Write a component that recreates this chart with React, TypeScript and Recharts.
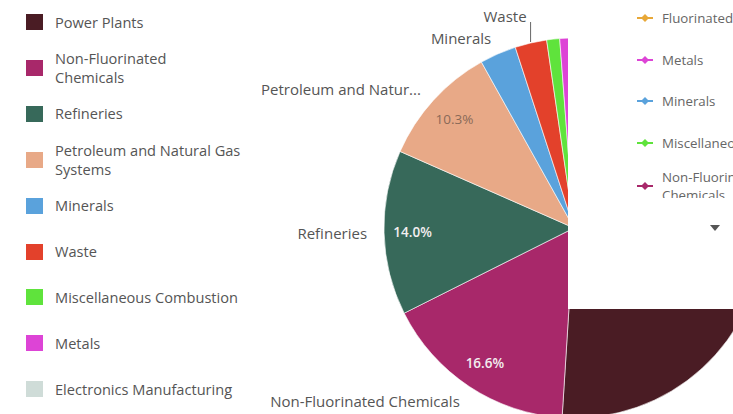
import React from "react";
import { PieChart, Pie, Cell } from "recharts";

const CATEGORIES = [
  "Power Plants",
  "Non-Fluorinated Chemicals",
  "Refineries",
  "Petroleum and Natural Gas Systems",
  "Minerals",
  "Waste",
  "Miscellaneous Combustion",
  "Metals",
  "Electronics Manufacturing",
];

// share of emissions, percent
const VALUES = [51.0, 16.6, 14.0, 10.3, 3.1, 2.7, 1.1, 0.9, 0.3];

const COLORS = [
  "#4a1c24",
  "#a8286a",
  "#37695a",
  "#e8a987",
  "#5aa2dc",
  "#e3412b",
  "#5fe33c",
  "#dd44d6",
  "#cfdcd8",
];

const LEGEND_LABELS = [
  "Power Plants",
  "Non-Fluorinated\nChemicals",
  "Refineries",
  "Petroleum and Natural Gas\nSystems",
  "Minerals",
  "Waste",
  "Miscellaneous Combustion",
  "Metals",
  "Electronics Manufacturing",
];

// which slices get a name outside / a percent inside
const NAME_LABELS = [1, 2, 3, 4, 5];
const PCT_LABELS = [1, 2, 3];

// legend of the panel lying over the pie
const SIDE_LABELS = [
  "Fluorinated GHG Production",
  "Metals",
  "Minerals",
  "Miscellaneous Combustion",
  "Non-Fluorinated\nChemicals",
];
const SIDE_COLORS = ["#e8a838", "#dd44d6", "#5aa2dc", "#5fe33c", "#a8286a"];

const FONT = "'Open Sans', 'Noto Sans', sans-serif";
const RAD = Math.PI / 180;

const data = CATEGORIES.map((name, i) => ({ name, value: VALUES[i] }));

function shortName(name: string) {
  return name.length > 25 ? name.slice(0, 19) + "..." : name;
}

function renderLabel(props: any) {
  const { cx, cy, midAngle, outerRadius, index, percent } = props;
  const cos = Math.cos(-midAngle * RAD);
  const sin = Math.sin(-midAngle * RAD);
  const out: React.ReactNode[] = [];

  if (PCT_LABELS.includes(index)) {
    const r = outerRadius * 0.85;
    const light = index !== 3;
    out.push(
      <text
        key="p"
        x={cx + r * cos}
        y={cy + r * sin}
        textAnchor="middle"
        dominantBaseline="central"
        fontSize={13.5}
        fontWeight={light ? 600 : 400}
        fill={light ? "#f3eef0" : "#8a6a58"}
        fontFamily={FONT}
      >
        {(percent * 100).toFixed(1)}%
      </text>
    );
  }

  if (NAME_LABELS.includes(index)) {
    const r = outerRadius + 17;
    let x = cx + r * cos;
    let y = cy + r * sin;
    if (index === 5) {
      // crowded near the top: lift it and draw a leader
      const ex = cx + (outerRadius + 1) * cos;
      const ey = cy + (outerRadius + 1) * sin;
      out.push(
        <line key="l" x1={ex} y1={ey} x2={ex} y2={ey - 20} stroke="#666" strokeWidth={1} />
      );
      x = ex - 4;
      y = ey - 26;
    }
    out.push(
      <text
        key="n"
        x={x}
        y={y}
        textAnchor="end"
        dominantBaseline="central"
        fontSize={15}
        fill="#555"
        fontFamily={FONT}
      >
        {shortName(CATEGORIES[index])}
      </text>
    );
  }

  return <g>{out}</g>;
}

function LeftLegend() {
  return (
    <div style={{ position: "absolute", left: 0, top: 0, width: 260 }}>
      {LEGEND_LABELS.map((label, i) => (
        <div
          key={i}
          style={{
            position: "absolute",
            left: 26,
            top: 22 + i * 45.9 - 23,
            height: 46,
            display: "flex",
            alignItems: "center",
          }}
        >
          <div style={{ width: 17, height: 16, background: COLORS[i], flexShrink: 0 }} />
          <div
            style={{
              marginLeft: 12,
              fontSize: 14.6,
              lineHeight: "19px",
              color: "#555",
              whiteSpace: "pre",
            }}
          >
            {label}
          </div>
        </div>
      ))}
    </div>
  );
}

function SidePanel() {
  return (
    <div
      style={{
        position: "absolute",
        left: 568,
        top: 0,
        width: 165,
        height: 309,
        background: "#fff",
        overflow: "hidden",
      }}
    >
      <div style={{ position: "absolute", left: 0, top: 0, width: 165, height: 198, overflow: "hidden" }}>
        {SIDE_LABELS.map((label, i) => (
          <div
            key={i}
            style={{
              position: "absolute",
              left: 69,
              top: 18 + i * 41.5 + (i === 4 ? 2 : 0) - 20,
              height: 40,
              display: "flex",
              alignItems: "center",
            }}
          >
            <svg width={16} height={8} style={{ flexShrink: 0 }}>
              <line x1={0} y1={4} x2={16} y2={4} stroke={SIDE_COLORS[i]} strokeWidth={2} />
              <polygon points="8,0 12,4 8,8 4,4" fill={SIDE_COLORS[i]} />
            </svg>
            <div
              style={{
                marginLeft: 9,
                fontSize: 13.3,
                lineHeight: "18px",
                color: "#666",
                whiteSpace: "pre",
              }}
            >
              {label}
            </div>
          </div>
        ))}
      </div>
      <svg style={{ position: "absolute", left: 142, top: 225 }} width={10} height={8}>
        <polygon points="0,0 10,0 5,6" fill="#555" />
      </svg>
    </div>
  );
}

export default function App() {
  return (
    <div
      style={{
        position: "absolute",
        left: 0,
        top: 0,
        width: 733,
        height: 414,
        overflow: "hidden",
        background: "#fff",
        fontFamily: FONT,
      }}
    >
      <PieChart width={733} height={414} margin={{ top: 0, right: 0, bottom: 0, left: 0 }}>
        <Pie
          data={data}
          dataKey="value"
          nameKey="name"
          cx={574}
          cy={228}
          outerRadius={190}
          startAngle={90}
          endAngle={-270}
          stroke="#fff"
          strokeWidth={0.6}
          label={renderLabel}
          labelLine={false}
          isAnimationActive={false}
        >
          {data.map((_, i) => (
            <Cell key={i} fill={COLORS[i]} />
          ))}
        </Pie>
      </PieChart>
      <LeftLegend />
      <SidePanel />
    </div>
  );
}
